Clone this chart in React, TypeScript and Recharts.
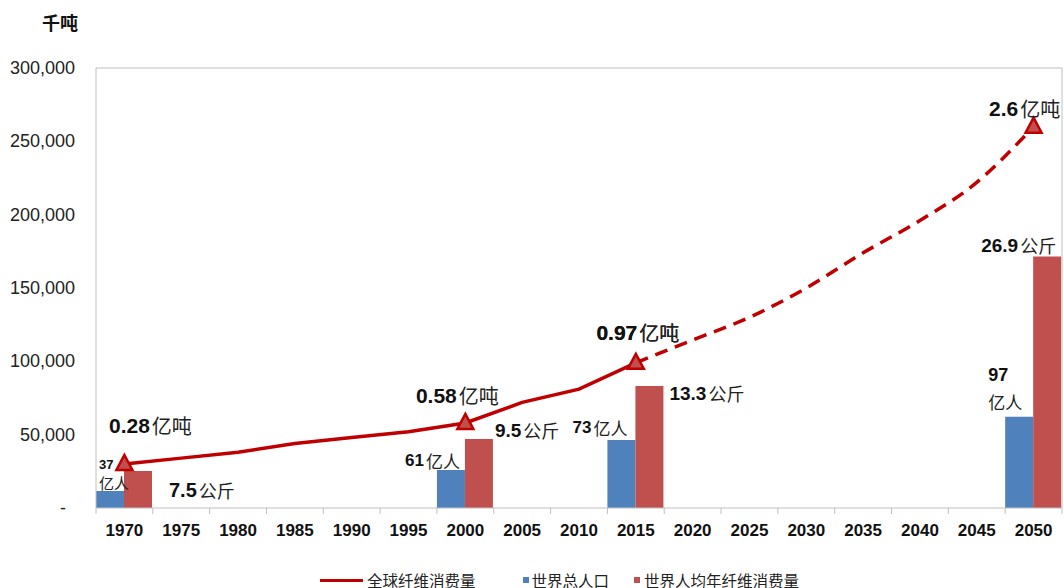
import React from "react";
import {
  ComposedChart,
  Bar,
  Line,
  XAxis,
  YAxis,
  ReferenceLine,
  LabelList,
} from "recharts";

// 年份
const years = [
  "1970", "1975", "1980", "1985", "1990", "1995", "2000", "2005", "2010",
  "2015", "2020", "2025", "2030", "2035", "2040", "2045", "2050",
];

// 全球纤维消费量（千吨）：实际 + 预测
const fiberActual = [
  30000, 34000, 38000, 44000, 48000, 52000, 58000, 72000, 81000, 99000,
  null, null, null, null, null, null, null,
];
const fiberForecast = [
  null, null, null, null, null, null, null, null, null, 99000, 114500,
  130000, 150000, 174000, 196000, 222000, 260000,
];
const fiberLabels = ["0.28", null, null, null, null, null, "0.58", null, null, "0.97", null, null, null, null, null, null, "2.6"];

// 柱子（按图上高度读取）
const population = [11600, null, null, null, null, null, 25900, null, null, 46400, null, null, null, null, null, null, 62300];
const popLabels = ["37", null, null, null, null, null, "61", null, null, "73", null, null, null, null, null, null, "97"];
const perCapita = [25200, null, null, null, null, null, 47000, null, null, 83200, null, null, null, null, null, null, 171400];
const perCapitaLabels = ["7.5", null, null, null, null, null, "9.5", null, null, "13.3", null, null, null, null, null, null, "26.9"];

const yTicks = [0, 50000, 100000, 150000, 200000, 250000, 300000];

const data = years.map((year, i) => ({
  year,
  fiberActual: fiberActual[i],
  fiberForecast: fiberForecast[i],
  fiberLabel: fiberLabels[i],
  population: population[i],
  popLabel: popLabels[i],
  perCapita: perCapita[i],
  perCapitaLabel: perCapitaLabels[i],
}));

const LINE_RED = "#C00000";
const BAR_BLUE = "#4F81BD";
const BAR_RED = "#C0504D";
const AXIS_GRAY = "#BFBFBF";
const NUM_FONT = "'Liberation Sans', Arial, sans-serif";
const CJK_FONT = "'Noto Sans CJK SC', sans-serif";

const PLOT_LEFT = 96;
const PLOT_RIGHT = 1062;
const HALF_BAND = (PLOT_RIGHT - PLOT_LEFT) / years.length / 2;

function RichText({ x, y, anchor, num, unit, numSize, unitSize }: any) {
  return (
    <text x={x} y={y} textAnchor={anchor} dominantBaseline="central" fill="#111">
      <tspan fontFamily={NUM_FONT} fontWeight="bold" fontSize={numSize}>
        {num}
      </tspan>
      {unit ? (
        <tspan fontFamily={CJK_FONT} fontSize={unitSize} dx={2} fill="#222">
          {unit}
        </tspan>
      ) : null}
    </text>
  );
}

// 标签相对位置（按标签文字取）
const fiberLabelPos: Record<string, { dx: number; dy: number }> = {
  "0.28": { dx: 26, dy: -39 },
  "0.58": { dx: -8, dy: -28 },
  "0.97": { dx: 2, dy: -31 },
  "2.6": { dx: -9, dy: -19 },
};

const renderFiberLabel = (props: any) => {
  const { x, y, value, index } = props;
  if (x == null || y == null || !value) return null;
  const pos = fiberLabelPos[value];
  if (!pos) return null;
  return (
    <RichText
      key={`fl-${index}`}
      x={x + pos.dx}
      y={y + pos.dy}
      anchor="middle"
      num={value}
      unit="亿吨"
      numSize={21}
      unitSize={20}
    />
  );
};

const popPos: Record<string, any> = {
  "37": { twoLine: true, dx: 3, numDy: -27, unitDy: -8, numSize: 13, unitSize: 15 },
  "61": { twoLine: false, dx: -5, dy: -10 },
  "73": { twoLine: false, dx: -8, dy: -13 },
  "97": { twoLine: true, dx: -17, numDy: -42, unitDy: -15, numSize: 18, unitSize: 17 },
};

const renderPopLabel = (props: any) => {
  const { x, y, width, value, index } = props;
  if (x == null || y == null || !value) return null;
  const pos = popPos[value];
  if (!pos) return null;
  if (pos.twoLine) {
    const sx = x + pos.dx;
    return (
      <g key={`pl-${index}`}>
        <RichText x={sx} y={y + pos.numDy} anchor="start" num={value} numSize={pos.numSize} />
        <text
          x={sx}
          y={y + pos.unitDy}
          textAnchor="start"
          dominantBaseline="central"
          fontFamily={CJK_FONT}
          fontSize={pos.unitSize}
          fill="#222"
        >
          亿人
        </text>
      </g>
    );
  }
  return (
    <RichText
      key={`pl-${index}`}
      x={x + width + pos.dx}
      y={y + pos.dy}
      anchor="end"
      num={value}
      unit="亿人"
      numSize={17}
      unitSize={17}
    />
  );
};

const perCapitaPos: Record<string, { dx: number; dy: number; anchor: string; size: number }> = {
  "7.5": { dx: 17, dy: 19, anchor: "start", size: 20 },
  "9.5": { dx: 2, dy: -9, anchor: "start", size: 19 },
  "13.3": { dx: 6, dy: 7, anchor: "start", size: 19 },
  "26.9": { dx: -5, dy: -12, anchor: "end", size: 19 },
};

const renderPerCapitaLabel = (props: any) => {
  const { x, y, width, value, index } = props;
  if (x == null || y == null || !value) return null;
  const pos = perCapitaPos[value];
  if (!pos) return null;
  return (
    <RichText
      key={`pc-${index}`}
      x={x + width + pos.dx}
      y={y + pos.dy}
      anchor={pos.anchor}
      num={value}
      unit="公斤"
      numSize={pos.size}
      unitSize={18}
    />
  );
};

const makeTriangleDot = (allowed: number[]) => (props: any) => {
  const { cx, cy, index } = props;
  if (cx == null || cy == null || !allowed.includes(index)) {
    return <g key={`d-${index}`} />;
  }
  return (
    <path
      key={`d-${index}`}
      d={`M${cx},${cy - 9} L${cx + 8},${cy + 6} L${cx - 8},${cy + 6} Z`}
      fill={BAR_RED}
      stroke={LINE_RED}
      strokeWidth={2.5}
      strokeLinejoin="miter"
    />
  );
};

const YTick = ({ x, y, payload }: any) => {
  const v = payload.value;
  return (
    <text
      x={v === 0 ? x - 9 : x}
      y={y}
      textAnchor="end"
      dominantBaseline="central"
      fontFamily={NUM_FONT}
      fontSize={18}
      fill="#222"
    >
      {v === 0 ? "-" : v.toLocaleString("en-US")}
    </text>
  );
};

const XTick = ({ x, y, payload, index }: any) => (
  <g>
    <line x1={x - HALF_BAND} x2={x - HALF_BAND} y1={y} y2={y + 6} stroke={AXIS_GRAY} />
    {index === years.length - 1 ? (
      <line x1={x + HALF_BAND} x2={x + HALF_BAND} y1={y} y2={y + 6} stroke={AXIS_GRAY} />
    ) : null}
    <text
      x={x}
      y={y + 28}
      textAnchor="middle"
      fontFamily={NUM_FONT}
      fontWeight="bold"
      fontSize={17}
      fill="#111"
    >
      {payload.value}
    </text>
  </g>
);

function LegendBox() {
  const text = { fontFamily: CJK_FONT, fontSize: 15.5, color: "#222", lineHeight: "18px" };
  return (
    <div
      style={{
        position: "absolute",
        left: 320,
        top: 571,
        display: "flex",
        alignItems: "center",
        whiteSpace: "nowrap",
      }}
    >
      <span style={{ display: "inline-block", width: 43, height: 3, background: LINE_RED }} />
      <span style={{ ...text, marginLeft: 4 }}>全球纤维消费量</span>
      <span style={{ display: "inline-block", width: 6, height: 6, background: BAR_BLUE, marginLeft: 47 }} />
      <span style={{ ...text, marginLeft: 3 }}>世界总人口</span>
      <span style={{ display: "inline-block", width: 6, height: 6, background: BAR_RED, marginLeft: 25 }} />
      <span style={{ ...text, marginLeft: 4 }}>世界人均年纤维消费量</span>
    </div>
  );
}

export default function App() {
  return (
    <div
      style={{
        position: "absolute",
        left: 0,
        top: 0,
        width: 1064,
        height: 588,
        background: "#fff",
        overflow: "hidden",
      }}
    >
      <div
        style={{
          position: "absolute",
          left: 42,
          top: 9,
          fontFamily: CJK_FONT,
          fontSize: 18,
          fontWeight: "bold",
          color: "#111",
        }}
      >
        千吨
      </div>
      <ComposedChart
        width={1064}
        height={588}
        data={data}
        margin={{ top: 68, right: 0, bottom: 50, left: 0 }}
        barGap={0}
        barCategoryGap={0}
      >
        <XAxis
          dataKey="year"
          height={30}
          interval={0}
          tickLine={false}
          tickSize={0}
          tickMargin={0}
          axisLine={{ stroke: AXIS_GRAY }}
          tick={<XTick />}
        />
        <YAxis
          width={96}
          domain={[0, 300000]}
          ticks={yTicks}
          tickLine={false}
          tickSize={0}
          tickMargin={21}
          axisLine={{ stroke: AXIS_GRAY }}
          tick={<YTick />}
        />
        <YAxis
          yAxisId="r"
          orientation="right"
          width={2}
          domain={[0, 300000]}
          tick={false}
          tickLine={false}
          axisLine={{ stroke: AXIS_GRAY }}
        />
        <ReferenceLine y={300000} stroke={AXIS_GRAY} />
        <Bar dataKey="population" fill={BAR_BLUE} isAnimationActive={false}>
          <LabelList dataKey="popLabel" content={renderPopLabel} />
        </Bar>
        <Bar dataKey="perCapita" fill={BAR_RED} isAnimationActive={false}>
          <LabelList dataKey="perCapitaLabel" content={renderPerCapitaLabel} />
        </Bar>
        <Line
          type="monotone"
          dataKey="fiberForecast"
          stroke={LINE_RED}
          strokeWidth={3.5}
          strokeDasharray="13 8"
          dot={makeTriangleDot([16])}
          activeDot={false}
          isAnimationActive={false}
        >
          <LabelList dataKey="fiberLabel" content={renderFiberLabel} />
        </Line>
        <Line
          type="linear"
          dataKey="fiberActual"
          stroke={LINE_RED}
          strokeWidth={3.5}
          dot={makeTriangleDot([0, 6, 9])}
          activeDot={false}
          isAnimationActive={false}
        >
          <LabelList dataKey="fiberLabel" content={renderFiberLabel} />
        </Line>
      </ComposedChart>
      <LegendBox />
    </div>
  );
}
